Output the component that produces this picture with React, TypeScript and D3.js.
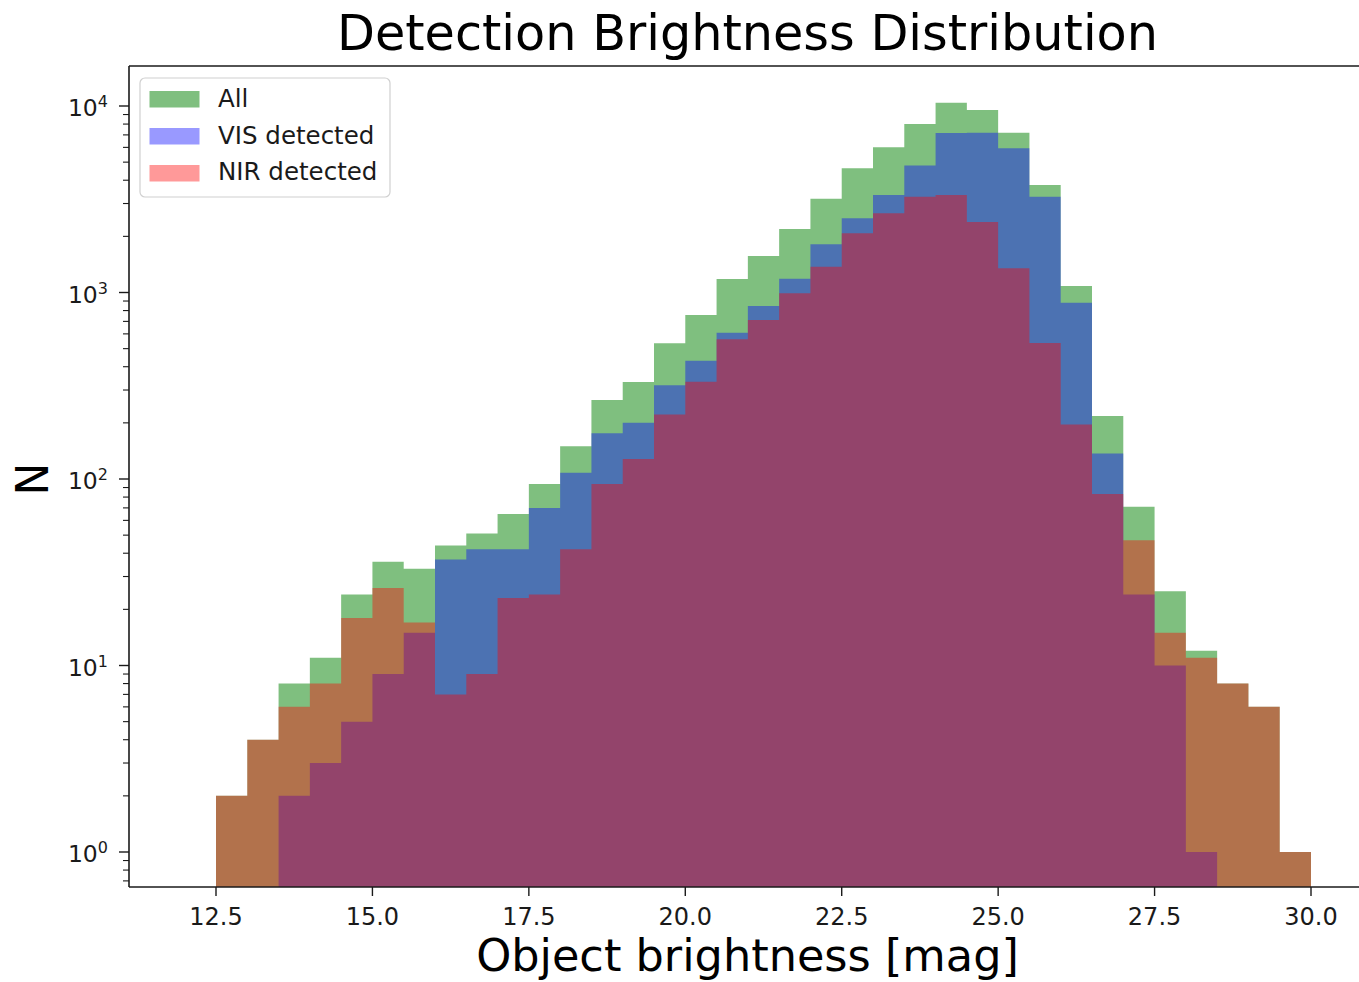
import React from 'react';
import * as d3 from 'd3';

// ---- data ----
const binStarts = [
  12.5, 13.0, 13.5, 14.0, 14.5, 15.0, 15.5, 16.0, 16.5, 17.0, 17.5, 18.0,
  18.5, 19.0, 19.5, 20.0, 20.5, 21.0, 21.5, 22.0, 22.5, 23.0, 23.5, 24.0,
  24.5, 25.0, 25.5, 26.0, 26.5, 27.0, 27.5, 28.0, 28.5, 29.0, 29.5,
];
const binWidth = 0.5;

const allCounts = [
  2, 4, 8, 11, 24, 36, 33, 44, 51, 65, 94, 150,
  265, 331, 534, 757, 1181, 1570, 2190, 3185, 4634, 6010, 8000, 10420,
  9530, 7190, 3768, 1083, 218, 71, 25, 12, 8, 6, 1,
];
const visCounts = [
  0, 0, 2, 3, 5, 9, 15, 37, 42, 42, 70, 108,
  176, 200, 318, 431, 609, 846, 1186, 1812, 2500, 3335, 4797, 7160,
  7190, 5930, 3265, 882, 137, 24, 10, 1, 0, 0, 0,
];
const nirCounts = [
  2, 4, 6, 8, 18, 26, 17, 7, 9, 23, 24, 42,
  94, 128, 222, 332, 561, 712, 990, 1375, 2077, 2660, 3265, 3335,
  2387, 1349, 536, 196, 83, 47, 15, 11, 8, 6, 1,
];

const seriesNames = ['All', 'VIS detected', 'NIR detected'];
const seriesColors = ['#008000', '#0000ff', '#ff0000'];
const seriesAlphas = [0.5, 0.4, 0.4];
const seriesCounts = [allCounts, visCounts, nirCounts];

const xTickValues = [12.5, 15.0, 17.5, 20.0, 22.5, 25.0, 27.5, 30.0];
const yMajorExponents = [0, 1, 2, 3, 4];
const yMinorExponents = [-1, 0, 1, 2, 3, 4];
const yMinorMultipliers = [2, 3, 4, 5, 6, 7, 8, 9];

const titleText = 'Detection Brightness Distribution';
const xLabelText = 'Object brightness [mag]';
const yLabelText = 'N';

// ---- layout ----
const W = 1359;
const H = 982;
const left = 129;
const right = 1366;
const top = 66;
const bottom = 887;
const font = "'DejaVu Sans', Verdana, sans-serif";

const x = d3.scaleLinear().domain([12.5, 30]).range([216, 1311]);
const y = d3.scaleLog().domain([1, 1e4]).range([852, 106]);

function stepPath(counts: number[]): string {
  let d = '';
  let i = 0;
  const n = counts.length;
  while (i < n) {
    if (counts[i] <= 0) {
      i++;
      continue;
    }
    d += `M${x(binStarts[i])},${bottom}`;
    while (i < n && counts[i] > 0) {
      const yy = y(counts[i]);
      d += `L${x(binStarts[i])},${yy}L${x(binStarts[i] + binWidth)},${yy}`;
      i++;
    }
    d += `L${x(binStarts[i - 1] + binWidth)},${bottom}Z`;
  }
  return d;
}

export default function App() {
  const minorTicks: number[] = [];
  yMinorExponents.forEach((e) => {
    yMinorMultipliers.forEach((m) => {
      const v = m * Math.pow(10, e);
      const py = y(v);
      if (py >= top && py <= bottom) minorTicks.push(v);
    });
  });

  return (
    <svg
      width={W}
      height={H}
      style={{ position: 'absolute', left: 0, top: 0, background: '#fff' }}
      fontFamily={font}
    >
      <rect x={0} y={0} width={W} height={H} fill="#fff" />
      <defs>
        <clipPath id="plotClip">
          <rect x={left} y={top} width={right - left} height={bottom - top} />
        </clipPath>
      </defs>

      {/* histograms */}
      <g clipPath="url(#plotClip)">
        {seriesCounts.map((counts, k) => (
          <path
            key={seriesNames[k]}
            d={stepPath(counts)}
            fill={seriesColors[k]}
            fillOpacity={seriesAlphas[k]}
            stroke="none"
          />
        ))}
      </g>

      {/* spines */}
      <line x1={left} y1={top} x2={left} y2={bottom} stroke="#1a1a1a" strokeWidth={1.6} />
      <line x1={left} y1={bottom} x2={right} y2={bottom} stroke="#1a1a1a" strokeWidth={1.6} />
      <line x1={left} y1={top} x2={right} y2={top} stroke="#1a1a1a" strokeWidth={1.6} />
      <line x1={right} y1={top} x2={right} y2={bottom} stroke="#1a1a1a" strokeWidth={1.6} />

      {/* x ticks */}
      {xTickValues.map((v) => (
        <g key={`xt${v}`}>
          <line x1={x(v)} y1={bottom} x2={x(v)} y2={bottom + 9} stroke="#1a1a1a" strokeWidth={1.4} />
          <text x={x(v)} y={925} fontSize={24} textAnchor="middle" fill="#1a1a1a">
            {v.toFixed(1)}
          </text>
        </g>
      ))}

      {/* y minor ticks */}
      {minorTicks.map((v) => (
        <line key={`ym${v}`} x1={left - 6} y1={y(v)} x2={left} y2={y(v)} stroke="#1a1a1a" strokeWidth={1.1} />
      ))}

      {/* y major ticks */}
      {yMajorExponents.map((e) => {
        const py = y(Math.pow(10, e));
        return (
          <g key={`yM${e}`}>
            <line x1={left - 10} y1={py} x2={left} y2={py} stroke="#1a1a1a" strokeWidth={1.4} />
            <text x={108} y={py + 10} fontSize={23.5} textAnchor="end" fill="#1a1a1a">
              <tspan>10</tspan>
              <tspan dy={-9} fontSize={16}>{e}</tspan>
            </text>
          </g>
        );
      })}

      {/* title and axis labels */}
      <text x={(left + right) / 2} y={50} fontSize={49.3} textAnchor="middle" fill="#000">
        {titleText}
      </text>
      <text x={(left + right) / 2} y={971} fontSize={44.6} textAnchor="middle" fill="#000">
        {xLabelText}
      </text>
      <text
        transform={`translate(48,479) rotate(-90)`}
        fontSize={44}
        textAnchor="middle"
        fill="#000"
      >
        {yLabelText}
      </text>

      {/* legend */}
      <g>
        <rect x={140} y={78} width={250} height={119} rx={5} fill="#fff" fillOpacity={0.8} stroke="#d0d0d0" strokeWidth={1.2} />
        {seriesNames.map((name, k) => (
          <g key={`lg${name}`}>
            <rect
              x={149.5}
              y={91 + k * 37}
              width={50}
              height={16.5}
              fill={seriesColors[k]}
              fillOpacity={seriesAlphas[k]}
            />
            <text x={218} y={107 + k * 36.6} fontSize={24.5} fill="#1a1a1a">
              {name}
            </text>
          </g>
        ))}
      </g>
    </svg>
  );
}
